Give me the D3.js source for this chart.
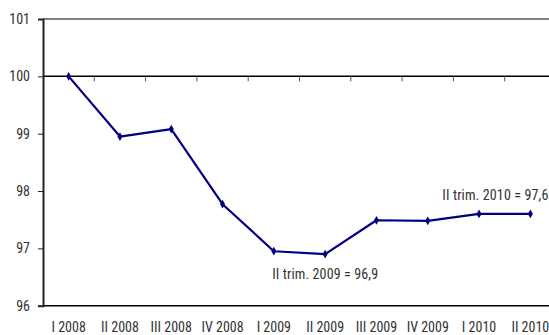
<!DOCTYPE html>
<html>
<head>
<meta charset="utf-8">
<script src="https://cdn.jsdelivr.net/npm/d3@7"></script>
<style>
  html, body { margin: 0; padding: 0; background: #fff; }
  svg { display: block; }
  text { font-family: "Liberation Sans Narrow", "Arial Narrow", "Roboto Condensed", sans-serif; fill: #333; }
</style>
</head>
<body>
<script>
// Quarterly index, I 2008 = 100
const quarters = ["I 2008", "II 2008", "III 2008", "IV 2008", "I 2009", "II 2009", "III 2009", "IV 2009", "I 2010", "II 2010"];
const values = [100, 98.95, 99.08, 97.77, 96.95, 96.9, 97.49, 97.48, 97.6, 97.6];
const yTicks = [96, 97, 98, 99, 100, 101];
const notes = [
  { quarter: "II 2009", text: "II trim. 2009 = 96,9" },
  { quarter: "II 2010", text: "II trim. 2010 = 97,6" }
];

const W = 549, H = 335;
const svg = d3.select("body").append("svg").attr("width", W).attr("height", H);

const x = d3.scaleBand().domain(quarters).range([43, 556]);
const y = d3.scaleLinear().domain([96, 101]).range([305.7, 19]);
const cx = q => x(q) + x.bandwidth() / 2;

// top border at 101
svg.append("line")
  .attr("x1", 43).attr("x2", W).attr("y1", y(101)).attr("y2", y(101))
  .attr("stroke", "#808080").attr("stroke-width", 2);

// bottom border at 96
svg.append("line")
  .attr("x1", 43).attr("x2", W).attr("y1", y(96)).attr("y2", y(96))
  .attr("stroke", "#000").attr("stroke-width", 1.5);

// value axis
const yAxis = svg.append("g").attr("transform", "translate(43,0)")
  .call(d3.axisLeft(y).tickValues(yTicks).tickSize(5).tickPadding(8).tickFormat(d3.format("d")));
yAxis.select(".domain").attr("stroke", "#222").attr("stroke-width", 2);
yAxis.selectAll(".tick line").attr("stroke", "#222");
yAxis.selectAll(".tick text").style("font-size", "14px").attr("fill", "#333");

// category axis crossing at 100, ticks between categories
const catAxis = svg.append("g").attr("transform", `translate(0,${y(100)})`);
catAxis.append("line")
  .attr("x1", 43).attr("x2", W).attr("y1", 0).attr("y2", 0)
  .attr("stroke", "#000").attr("stroke-width", 1.5);
catAxis.selectAll("line.tk").data(quarters.slice(1)).join("line")
  .attr("class", "tk")
  .attr("x1", d => x(d)).attr("x2", d => x(d))
  .attr("y1", 0).attr("y2", 5)
  .attr("stroke", "#555").attr("stroke-width", 1);

// category labels along the bottom
svg.append("g").selectAll("text").data(quarters).join("text")
  .attr("x", d => cx(d))
  .attr("y", 331.5)
  .attr("text-anchor", "middle")
  .style("font-size", "14px")
  .text(d => d);

// series line
const line = d3.line().x((d, i) => cx(quarters[i])).y(d => y(d));
svg.append("path").datum(values)
  .attr("d", line)
  .attr("fill", "none")
  .attr("stroke", "#000080")
  .attr("stroke-width", 2.2)
  .attr("stroke-linejoin", "round");

// diamond markers
svg.append("g").selectAll("path").data(values).join("path")
  .attr("transform", (d, i) => `translate(${cx(quarters[i])},${y(d)})`)
  .attr("d", d3.symbol().type(d3.symbolDiamond).size(22))
  .attr("fill", "#000080");

// value notes
const noteOffsets = { "II 2009": [-53, 25], "II 2010": [-88, -14] };
svg.append("g").selectAll("text").data(notes).join("text")
  .attr("x", d => cx(d.quarter) + noteOffsets[d.quarter][0])
  .attr("y", d => y(values[quarters.indexOf(d.quarter)]) + noteOffsets[d.quarter][1])
  .attr("textLength", 106)
  .attr("lengthAdjust", "spacing")
  .style("font-size", "14px")
  .text(d => d.text);
</script>
</body>
</html>
